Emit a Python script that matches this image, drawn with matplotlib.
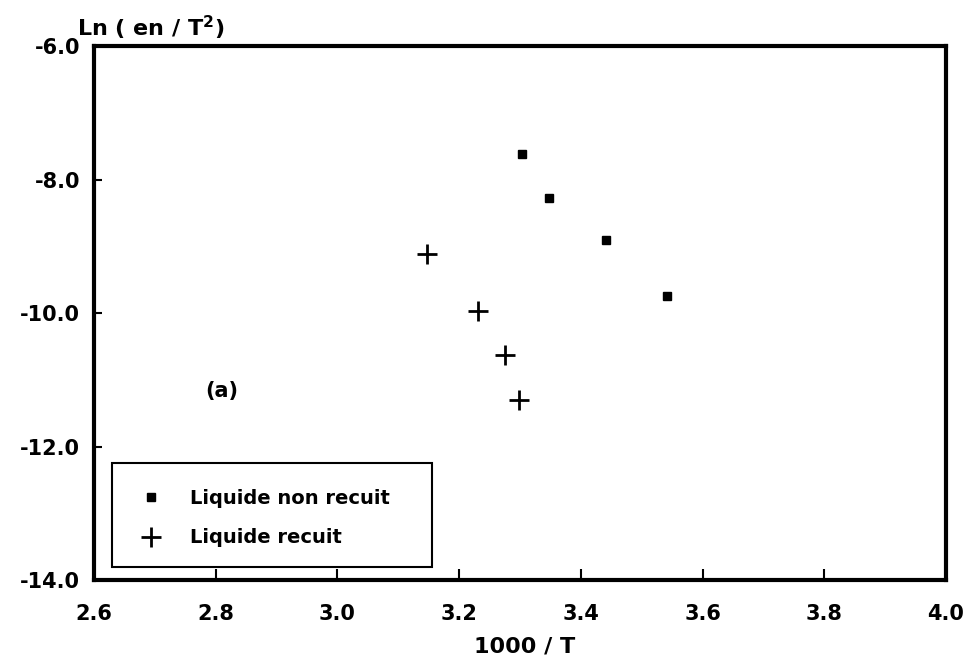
import matplotlib
matplotlib.use("Agg")
import matplotlib.pyplot as plt
from matplotlib.patches import Rectangle

# 1000/T and Ln(en/T^2) for the two liquid samples
x_non_recuit = [3.303, 3.348, 3.442, 3.541]
y_non_recuit = [-7.62, -8.28, -8.91, -9.75]

x_recuit = [3.148, 3.231, 3.275, 3.298]
y_recuit = [-9.12, -9.97, -10.63, -11.31]

labels = ["Liquide non recuit", "Liquide recuit"]
x_ticks = [2.6, 2.8, 3.0, 3.2, 3.4, 3.6, 3.8, 4.0]
x_ticklabels = ["2.6", "2.8", "3.0", "3.2", "3.4", "3.6", "3.8", "4.0"]
y_ticks = [-14.0, -12.0, -10.0, -8.0, -6.0]
y_ticklabels = ["-14.0", "-12.0", "-10.0", "-8.0", "-6.0"]

plt.rcParams["font.family"] = ["DejaVu Sans"]
plt.rcParams["font.weight"] = "bold"

fig = plt.figure(figsize=(9.79, 6.66), dpi=100)
ax = fig.add_axes([0.096, 0.1291, 0.8703, 0.8018])

ax.plot(x_non_recuit, y_non_recuit, linestyle="none", marker="s",
        markersize=5.5, color="black", label=labels[0])
ax.plot(x_recuit, y_recuit, linestyle="none", marker="+",
        markersize=15, markeredgewidth=2.0, color="black", label=labels[1])

ax.set_xlim(2.6, 4.0)
ax.set_ylim(-14.0, -6.0)
ax.set_xticks(x_ticks)
ax.set_xticklabels(x_ticklabels)
ax.set_yticks(y_ticks)
ax.set_yticklabels(y_ticklabels)

for s in ax.spines.values():
    s.set_linewidth(3.0)
    s.set_color("black")

ax.tick_params(axis="x", direction="in", length=8, width=1.5,
               labelsize=15, pad=17)
ax.tick_params(axis="y", direction="in", length=6, width=1.5,
               labelsize=15, pad=10)
# hide the tick marks that sit on the spines at the axis limits
for t in (ax.xaxis.get_major_ticks()[0], ax.xaxis.get_major_ticks()[-1],
          ax.yaxis.get_major_ticks()[0], ax.yaxis.get_major_ticks()[-1]):
    t.tick1line.set_visible(False)

ax.set_xlabel("1000 / T", fontsize=16, fontweight="bold")
ax.xaxis.set_label_coords(0.505, -0.105)

fig.text(0.079, 0.937, "Ln ( en / T$^{\\mathregular{2}}$)", fontsize=16,
         fontweight="bold", ha="left", va="bottom")

ax.text(2.81, -11.17, "(a)", fontsize=15, fontweight="bold",
        ha="center", va="center")

# legend frame drawn as a plain rectangle, entries placed inside it
ax.add_patch(Rectangle((0.0211, 0.0243), 0.3756, 0.1948,
                       transform=ax.transAxes, fill=False,
                       edgecolor="black", linewidth=1.5, zorder=3))
leg = ax.legend(loc="center left", bbox_to_anchor=(0.0487, 0.116),
                frameon=False, fontsize=14, borderpad=0.0,
                labelspacing=1.06, handlelength=1.6,
                handletextpad=1.21, borderaxespad=0.0)

fig.savefig("out.png", dpi=100)
